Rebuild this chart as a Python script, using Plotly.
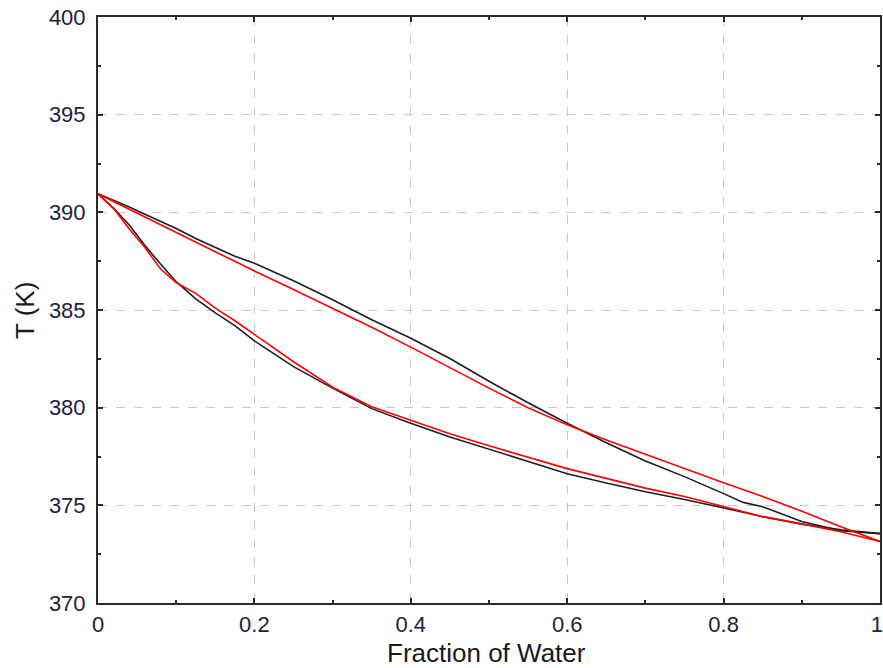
import plotly.graph_objects as go

x_water = [0, 0.02, 0.04, 0.06, 0.08, 0.1, 0.125, 0.15, 0.175, 0.2, 0.25, 0.3, 0.35, 0.4,
           0.45, 0.5, 0.55, 0.6, 0.65, 0.7, 0.75, 0.8, 0.825, 0.85, 0.9, 0.95, 1.0]

T_exp_dew = [390.95, 390.62, 390.27, 389.9, 389.54, 389.17, 388.66, 388.2, 387.75, 387.39,
             386.5, 385.52, 384.5, 383.55, 382.52, 381.35, 380.25, 379.2, 378.2, 377.27,
             376.47, 375.6, 375.15, 374.93, 374.17, 373.7, 373.55]

T_model_dew = [390.95, 390.55, 390.15, 389.75, 389.35, 388.95, 388.47, 387.98, 387.5, 387.0,
               386.05, 385.1, 384.12, 383.1, 382.05, 381.0, 380.0, 379.12, 378.35, 377.6,
               376.88, 376.15, 375.8, 375.45, 374.7, 373.9, 373.15]

T_exp_bub = [390.95, 390.2, 389.35, 388.3, 387.35, 386.45, 385.57, 384.85, 384.2, 383.42,
             382.1, 381.0, 379.95, 379.2, 378.5, 377.88, 377.28, 376.62, 376.14, 375.7,
             375.3, 374.88, 374.65, 374.42, 374.04, 373.75, 373.55]

T_model_bub = [390.95, 390.2, 389.15, 388.2, 387.1, 386.4, 385.85, 385.1, 384.45, 383.75,
               382.35, 381.05, 380.05, 379.36, 378.67, 378.05, 377.45, 376.88, 376.38, 375.88,
               375.45, 374.95, 374.68, 374.42, 374.05, 373.65, 373.15]

x_ticks = [0, 0.2, 0.4, 0.6, 0.8, 1.0]
x_tick_text = ["0", "0.2", "0.4", "0.6", "0.8", "1\u00a0"]
y_ticks = [370, 375, 380, 385, 390, 395, 400]
x_title = "Fraction of Water"
y_title = "T (K)"

fig = go.Figure()
for ys, color in [(T_exp_dew, "#1e1e1e"), (T_exp_bub, "#1e1e1e"),
                  (T_model_dew, "#ff0000"), (T_model_bub, "#ff0000")]:
    fig.add_trace(go.Scatter(x=x_water, y=ys, mode="lines",
                             line=dict(color=color, width=1.6), showlegend=False,
                             hoverinfo="skip", cliponaxis=False))

font_family = "Liberation Sans, Arial, sans-serif"
tick_color = "#22223a"

axis_common = dict(
    showline=True, linecolor="#2a2a2a", linewidth=2, mirror="allticks",
    ticks="inside", ticklen=5, tickwidth=2, tickcolor="#2a2a2a",
    showgrid=True, gridcolor="#c8c8c8", griddash="dash", gridwidth=1,
    zeroline=False, automargin=False, ticklabeloverflow="allow",
    tickfont=dict(family=font_family, size=22, color=tick_color),
)

fig.update_xaxes(
    range=[0, 1], tickvals=x_ticks, ticktext=x_tick_text,
    minor=dict(dtick=0.1, ticks="inside", ticklen=3, tickcolor="#2a2a2a", tickwidth=2, showgrid=False),
    ticklabelstandoff=1,
    **axis_common,
)
fig.update_yaxes(
    range=[370, 400], tickvals=y_ticks,
    minor=dict(dtick=2.5, ticks="inside", ticklen=3, tickcolor="#2a2a2a", tickwidth=2, showgrid=False),
    ticklabelstandoff=6,
    **axis_common,
)

fig.add_annotation(text=x_title, xref="paper", yref="paper", x=0.4974, y=-0.0855,
                   xanchor="center", yanchor="middle", showarrow=False, borderpad=0,
                   font=dict(family=font_family, size=26, color="#1a1a1a"))
fig.add_annotation(text=y_title, xref="paper", yref="paper", x=-0.0934, y=0.5,
                   xanchor="center", yanchor="middle", showarrow=False, textangle=-90,
                   font=dict(family=font_family, size=26, color="#1a1a1a"))

fig.update_layout(
    width=883, height=668,
    margin=dict(l=98, r=3, t=17, b=65),
    plot_bgcolor="white", paper_bgcolor="white",
)

fig.write_html("out.html", config={"displayModeBar": False},
               post_script="document.body.style.margin='0';document.body.style.overflow='hidden';")
